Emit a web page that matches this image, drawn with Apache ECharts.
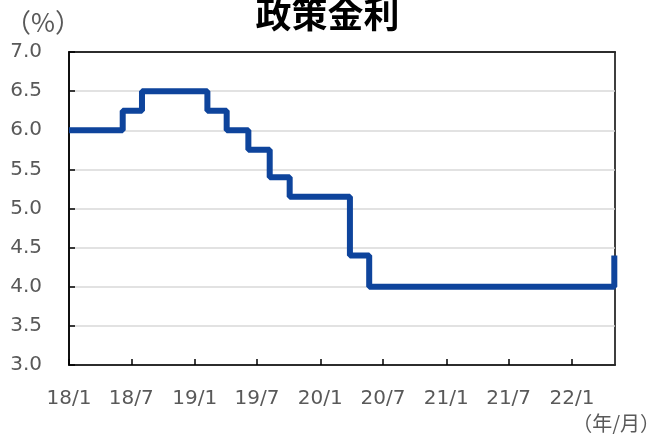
<!DOCTYPE html>
<html>
<head>
<meta charset="utf-8">
<script src="https://cdn.jsdelivr.net/npm/echarts@6/dist/echarts.min.js"></script>
<style>
  html, body { margin: 0; padding: 0; background: #fff; }
  #chart { width: 655px; height: 434px; }
</style>
</head>
<body>
<div id="chart"></div>
<script>
// 政策金利（変更日ベース）
const dates = ['2018-01-01', '2018-06-06', '2018-08-01', '2019-02-07', '2019-04-04', '2019-06-06',
    '2019-08-07', '2019-10-04', '2020-03-27', '2020-05-22', '2022-05-04', '2022-05-06'];
const rates = [6.0, 6.25, 6.5, 6.25, 6.0, 5.75, 5.4, 5.15, 4.4, 4.0, 4.4, 4.4];
const yTicks = ['3.0', '3.5', '4.0', '4.5', '5.0', '5.5', '6.0', '6.5', '7.0'];
const xStart = '2018-01-01';
const xEnd = '2022-05-06';

const DAY = 24 * 3600 * 1000;
const chart = echarts.init(document.getElementById('chart'));
const labelColor = '#595959';
const font = 'DejaVu Sans';

chart.setOption({
    animation: false,
    title: {
        text: '政策金利',
        left: 'center',
        top: -9,
        textStyle: {
            fontFamily: 'Noto Sans CJK JP',
            fontWeight: 'bold',
            fontSize: 36,
            color: '#000'
        }
    },
    graphic: [
        {
            type: 'text', left: 5, top: 9,
            style: { text: '（%）', fontFamily: 'Noto Sans CJK JP', fontSize: 26, fill: labelColor }
        },
        {
            type: 'text', right: -5, top: 413,
            style: { text: '（年/月）', fontFamily: 'Noto Sans CJK JP', fontSize: 20, fill: labelColor }
        }
    ],
    grid: {
        left: 69, right: 40, top: 52, bottom: 69,
        show: true,
        borderColor: '#000',
        borderWidth: 1.5
    },
    xAxis: [
        {
            type: 'time',
            min: xStart,
            max: xEnd,
            minInterval: 180 * DAY,
            maxInterval: 185 * DAY,
            axisLine: { lineStyle: { color: '#000', width: 1.5 } },
            axisTick: { show: true, inside: true, length: 6, lineStyle: { color: '#000', width: 1.5 } },
            splitLine: { show: false },
            axisLabel: {
                color: labelColor,
                fontFamily: font,
                fontSize: 20,
                margin: 24,
                showMinLabel: true,
                showMaxLabel: false,
                hideOverlap: false,
                formatter: function (val) {
                    const d = new Date(val);
                    return String(d.getFullYear()).slice(2) + '/' + (d.getMonth() + 1);
                }
            }
        },
        {
            // 上枠線
            type: 'time',
            position: 'top',
            min: xStart,
            max: xEnd,
            axisLine: { show: true, lineStyle: { color: '#000', width: 1.5 } },
            axisTick: { show: false },
            axisLabel: { show: false },
            splitLine: { show: false }
        }
    ],
    yAxis: {
        type: 'value',
        min: 3,
        max: 7,
        interval: 0.5,
        axisLine: { show: true, lineStyle: { color: '#000', width: 1.5 } },
        axisTick: { show: true, inside: true, length: 6, lineStyle: { color: '#000', width: 1.5 } },
        splitLine: { show: true, lineStyle: { color: '#d9d9d9', width: 1.5 } },
        axisLabel: {
            color: labelColor,
            fontFamily: font,
            fontSize: 20,
            margin: 27,
            formatter: function (val) {
                return yTicks[Math.round((val - 3) / 0.5)];
            }
        }
    },
    series: [
        {
            type: 'line',
            step: 'end',
            symbol: 'none',
            lineStyle: { color: '#0e449c', width: 6 },
            data: dates.map((d, i) => [d, rates[i]])
        }
    ]
});
</script>
</body>
</html>
